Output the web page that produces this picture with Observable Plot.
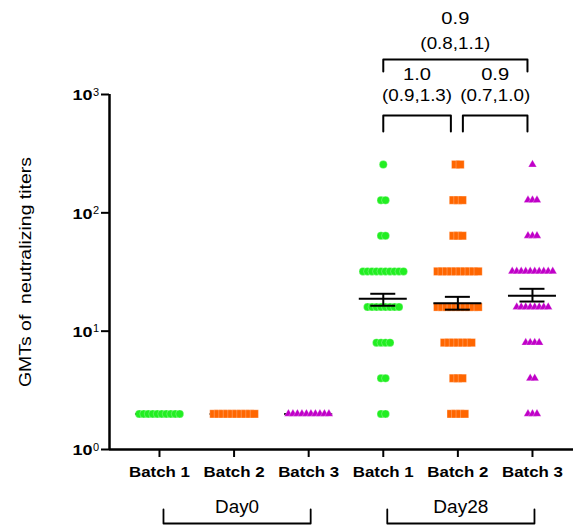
<!DOCTYPE html>
<html><head><meta charset="utf-8">
<script src="https://cdn.jsdelivr.net/npm/d3@7"></script>
<script src="https://cdn.jsdelivr.net/npm/@observablehq/plot@0.6"></script>
<style>body{margin:0;background:#fff}</style>
</head><body><div id="chart"></div>
<script>
// ---------- data ----------
const days = ["Day0", "Day28"];
const batches = ["Batch 1", "Batch 2", "Batch 3"];
const titerLevels = [2, 4, 8, 16, 32, 64, 128, 256];
// number of subjects at each titer level (same order as titerLevels)
const day0B1 = [10, 0, 0, 0, 0, 0, 0, 0];
const day0B2 = [10, 0, 0, 0, 0, 0, 0, 0];
const day0B3 = [10, 0, 0, 0, 0, 0, 0, 0];
const day28B1 = [2, 2, 4, 8, 10, 2, 2, 1];
const day28B2 = [4, 3, 7, 10, 10, 3, 3, 2];
const day28B3 = [3, 2, 4, 8, 10, 3, 3, 1];
const gmt    = [2, 2, 2, 18.8, 17.2, 19.9];
const ciLow  = [2, 2, 2, 16.4, 15.2, 17.8];
const ciHigh = [2, 2, 2, 20.7, 19.5, 22.8];
const ratioTop = ["1.0", "0.9", "0.9"];
const ratioCI  = ["(0.9,1.3)", "(0.7,1.0)", "(0.8,1.1)"];
const yTicks = [1, 10, 100, 1000];
const yLabel = "GMTs of  neutralizing titers";

// ---------- layout ----------
const W = 573, H = 525, mL = 109, mR = 0, mT = 94, mB = 76;
const xDomain = [0.33, 6.55];
const pxPerUnit = (W - mL - mR) / (xDomain[1] - xDomain[0]);
const dxU = px => px / pxPerUnit;
const ys = Plot.scale({y: {type: "log", domain: [1, 1000], range: [H - mB, mT]}});
const below = off => ys.invert(H - mB + off);   // px below the x axis
const fromTop = off => ys.invert(off);           // px from top of the svg

const groupCounts = [day0B1, day0B2, day0B3, day28B1, day28B2, day28B3];
const colors = ["#22ee22", "#ff6600", "#c000c8"];
const spacing = 4.5;
const points = [];
groupCounts.forEach((counts, gi) => {
  counts.forEach((n, li) => {
    for (let j = 0; j < n; j++) {
      points.push({g: gi + 1, batch: gi % 3, x: gi + 1 + dxU((j - (n - 1) / 2) * spacing), y: titerLevels[li]});
    }
  });
});
const groups = gmt.map((m, i) => ({g: i + 1, gmt: m, lo: ciLow[i], hi: ciHigh[i], label: batches[i % 3], day0: i < 3}));

// comparison brackets among Day28 groups
const brackets = [
  {a: 4, b: 5, da: 0, db: -7, yTop: fromTop(115), yArm: fromTop(131), t1: fromTop(74), t2: fromTop(95), k: 0},
  {a: 5, b: 6, da: 5, db: -5, yTop: fromTop(115), yArm: fromTop(131), t1: fromTop(74), t2: fromTop(95), k: 1},
  {a: 4, b: 6, da: 0, db: -5, yTop: fromTop(59), yArm: fromTop(71), t1: fromTop(18), t2: fromTop(43), k: 2}
];
const bracketPts = brackets.flatMap((b, i) => {
  const xa = b.a + dxU(b.da), xb = b.b + dxU(b.db);
  return [{i, x: xa, y: b.yArm}, {i, x: xa, y: b.yTop}, {i, x: xb, y: b.yTop}, {i, x: xb, y: b.yArm}];
});
const bracketTxt = brackets.map(b => ({x: (b.a + dxU(b.da) + b.b + dxU(b.db)) / 2, t1: b.t1, t2: b.t2, s1: ratioTop[b.k], s2: ratioCI[b.k]}));

const dayGroups = [{name: days[0], a: 1, b: 3}, {name: days[1], a: 4, b: 6}];
const dayPts = dayGroups.flatMap((d, i) => {
  const xa = d.a + dxU(4), xb = d.b + dxU(2);
  return [{i, x: xa, y: below(60)}, {i, x: xa, y: below(74)}, {i, x: xb, y: below(74)}, {i, x: xb, y: below(60)}];
});

const font = "Liberation Sans, Arial, Helvetica, sans-serif";
const symbols = ["circle", "square", "triangle"];
const sizes = [4, 4.6, 3.1];

const chart = Plot.plot({
  width: W, height: H,
  marginLeft: mL, marginRight: mR, marginTop: mT, marginBottom: mB,
  x: {domain: xDomain, axis: null},
  y: {type: "log", domain: [1, 1000], axis: null},
  style: {fontFamily: font, background: "white", color: "black"},
  marks: [
    // Day0 mean lines beneath dots
    Plot.ruleY(groups.filter(d => d.day0), {y: "gmt", x1: d => d.g - dxU(24), x2: d => d.g + dxU(24), stroke: "black", strokeWidth: 2}),
    ...[0, 1, 2].map(b => Plot.dot(points.filter(p => p.batch === b), {
      x: "x", y: "y", symbol: symbols[b], r: sizes[b], fill: colors[b],
      stroke: "white", strokeOpacity: 0.45, strokeWidth: 0.6
    })),
    // Day28 mean and 95% CI
    Plot.ruleY(groups.filter(d => !d.day0), {y: "gmt", x1: d => d.g - dxU(24), x2: d => d.g + dxU(24), stroke: "black", strokeWidth: 2}),
    Plot.ruleX(groups.filter(d => !d.day0), {x: "g", y1: "lo", y2: "hi", stroke: "black", strokeWidth: 2}),
    Plot.ruleY(groups.filter(d => !d.day0), {y: "lo", x1: d => d.g - dxU(12.5), x2: d => d.g + dxU(12.5), stroke: "black", strokeWidth: 2}),
    Plot.ruleY(groups.filter(d => !d.day0), {y: "hi", x1: d => d.g - dxU(12.5), x2: d => d.g + dxU(12.5), stroke: "black", strokeWidth: 2}),
    // axes
    Plot.ruleX([xDomain[0]], {y1: 1, y2: 1000, stroke: "black", strokeWidth: 2.5}),
    Plot.ruleY([1], {x1: xDomain[0], x2: xDomain[1], stroke: "black", strokeWidth: 2.5}),
    Plot.ruleY(yTicks, {y: d => d, x1: xDomain[0] - dxU(8), x2: xDomain[0], stroke: "black", strokeWidth: 2}),
    Plot.text(yTicks, {x: xDomain[0], y: d => d, text: () => "10", textAnchor: "end", dx: -17, dy: 1, fontSize: 15.5, fontWeight: "bold", fontFamily: font, fill: "black"}),
    Plot.text(yTicks, {x: xDomain[0], y: d => d, text: d => String(Math.round(Math.log10(d))), textAnchor: "start", dx: -16.5, dy: -2.5, fontSize: 11, fontFamily: font, fill: "black"}),
    Plot.ruleX(groups, {x: "g", y1: 1, y2: below(8), stroke: "black", strokeWidth: 2}),
    Plot.text(groups, {x: "g", y: below(23), text: "label", fontSize: 15.5, fontWeight: "bold", fontFamily: font, fill: "black"}),
    Plot.text([yLabel], {x: xDomain[0], y: 31.6, text: d => d, rotate: -90, dx: -84, fontSize: 16.5, fontFamily: font, fill: "black"}),
    // Day groups
    Plot.line(dayPts, {x: "x", y: "y", z: "i", stroke: "black", strokeWidth: 1.8}),
    Plot.text(dayGroups, {x: d => (d.a + d.b) / 2 + dxU(3), y: below(58), text: "name", fontSize: 17.5, fontFamily: font, fill: "black"}),
    // comparison brackets
    Plot.line(bracketPts, {x: "x", y: "y", z: "i", stroke: "black", strokeWidth: 2}),
    Plot.text(bracketTxt, {x: "x", y: "t1", text: "s1", fontSize: 16.5, fontFamily: font, fill: "black"}),
    Plot.text(bracketTxt, {x: "x", y: "t2", text: "s2", fontSize: 16.5, fontFamily: font, fill: "black"})
  ]
});
document.getElementById("chart").appendChild(chart);
// widen glyphs horizontally to the widths seen in the reference
const targetWidth = s => s.startsWith("Batch") ? 61 : s === "Day0" ? 44 : s === "Day28" ? 55 : s === "10" ? 20
  : s === yLabel ? 230 : s.startsWith("(") ? 70 : s.includes(".") ? 28 : 0;
chart.querySelectorAll("text").forEach(t => {
  const w = targetWidth(t.textContent);
  if (w > 0) {
    t.setAttribute("textLength", w);
    t.setAttribute("lengthAdjust", "spacingAndGlyphs");
  }
});
</script>
</body></html>
